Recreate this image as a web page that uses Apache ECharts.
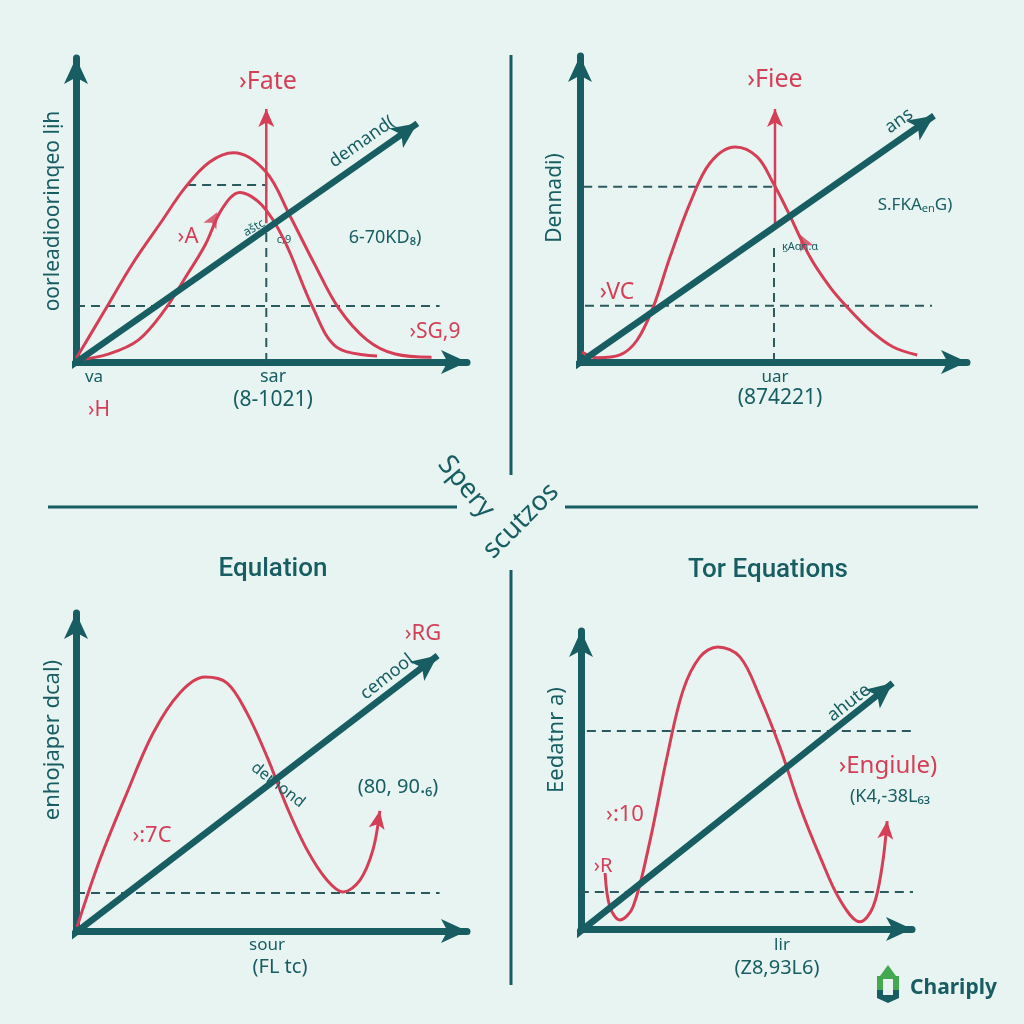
<!DOCTYPE html>
<html><head><meta charset="utf-8">
<script src="https://cdn.jsdelivr.net/npm/echarts@6/dist/echarts.min.js"></script>
<style>html,body{margin:0;padding:0;background:#e8f4f1}#c{width:1024px;height:1024px}</style>
</head><body><div id="c"></div>
<script>
// ---------- data (units: 0..100 along each panel's axes) ----------
// Panel 1 (top-left)
const p1Outer = [[0,1],[7,16],[14,31],[21,44],[27,55],[33,63],[39,66],[47,60],[53,46],[59,31],[65,17],[72,7],[79,2.5],[88,1.5]];
const p1Inner = [[0,0.6],[8,2.5],[15.5,7],[22,16.5],[27,26.5],[32,37],[36,48],[40.5,53.5],[46,49.5],[51.5,38.5],[58.5,17.5],[64.5,4.7],[74.5,1.9]];
const p1Demand = [[-5.5,-5],[84.5,75.3]];
const p1Price = [[47.1,43.8],[47.1,79.8]];
const p1GuideHigh = [[27.5,55.8],[47.1,55.8]];
const p1GuideLow = [[0,17.7],[90,17.7]];
const p1GuideV = [[47.1,0],[47.1,41.6]];
const p1Pointer = [35,47.3];
// Panel 2 (top-right)
const p2Curve = [[0.5,3.1],[4.3,1.3],[10,2.2],[14.3,6.9],[18.3,17.2],[22.5,32.9],[27.5,49.8],[32.5,62.4],[38.8,67.4],[44.3,64.3],[48.3,56.1],[51.8,47.6],[57.5,32.9],[62.5,23.5],[66.8,17.2],[72.5,10],[78.3,4.7],[84.3,2.2]];
const p2Demand = [[-3.75,-3.4],[88.5,77.2]];
const p2Price = [[48.75,42.3],[48.75,79.3]];
const p2GuideHigh = [[0.8,54.9],[48.3,54.9]];
const p2GuideLow = [[-2.5,17.6],[88,17.6]];
const p2GuideV = [[48.5,0],[48.5,37.3]];
const p2Pointer = [55,40];
// Panel 3 (bottom-left)
const p3Curve = [[0.25,1.2],[5.9,21.5],[12.6,41.7],[19.1,59.8],[25.7,71.9],[31.9,76.7],[37.4,74.9],[42.3,65.9],[47.3,52.6],[52.2,37.5],[57.2,24.5],[62.1,15.4],[66.1,11.8],[70.3,15.4],[73.5,24.5],[75.2,36.3]];
const p3Demand = [[-4.7,-4.8],[89.5,83.2]];
const p3Guide = [[0,11.5],[90,11.5]];
// Panel 4 (bottom-right)
const p4Curve = [[7,18],[8.4,7.1],[11.3,2.9],[15.1,7.1],[20.1,28.6],[25,55.3],[29.7,76.8],[34.6,87.5],[39.8,90.7],[46.2,87.5],[52,74.6],[57.8,58.5],[63.7,39.2],[69.5,23.2],[75.3,9.3],[81.1,2.3],[84.9,7.1],[87.5,19.9],[89,34.7]];
const p4Demand = [[-4.1,-4.2],[90.6,79.1]];
const p4GuideHigh = [[1.7,63.7],[103,63.7]];
const p4GuideLow = [[-4.7,11.9],[101.5,11.9]];

// ---------- styling / layout ----------
const teal = '#175d62', red = '#d43f57', dashC = '#2b5a5e', bg = '#e8f4f1';
const FONT = '"Noto Sans", "DejaVu Sans", sans-serif';
const TFONT = 'Roboto, "Noto Sans", sans-serif';
const panels = [
  {ox:76, oy:362, tipX:480, tipY:45},
  {ox:580, oy:362, tipX:980, tipY:43},
  {ox:76, oy:931, tipX:480, tipY:600},
  {ox:581, oy:929, tipX:925, tipY:618}
];
const AH = 26; // axis arrow height
const grids = [], xAxes = [], yAxes = [];
panels.forEach((p, i) => {
  const W = p.tipX - p.ox, H = p.oy - p.tipY;
  const back = AH / 2;
  grids.push({left: p.ox, top: p.tipY + back, width: W - back, height: H - back});
  const axisLine = {show:true, onZero:false, symbol:['none','arrow'], symbolSize:[18, AH], lineStyle:{color:teal, width:7}};
  xAxes.push({gridIndex:i, type:'value', min:0, max:100*(W-back)/W, axisLine, axisTick:{show:false}, axisLabel:{show:false}, splitLine:{show:false}});
  yAxes.push({gridIndex:i, type:'value', min:0, max:100*(H-back)/H, axisLine, axisTick:{show:false}, axisLabel:{show:false}, splitLine:{show:false}});
});

function withArrow(data, size, rot, color) {
  return data.map((d, k) => k === data.length - 1
    ? {value:d, symbol:'arrow', symbolSize:size, symbolRotate:rot, itemStyle:{color}}
    : {value:d});
}
function curve(gi, data, arrowRot) {
  return {type:'line', xAxisIndex:gi, yAxisIndex:gi, smooth:0.35, symbol:'none', clip:false, silent:true,
    data: arrowRot === undefined ? data : withArrow(data, [12,18], arrowRot, red),
    lineStyle:{color:red, width:3}, itemStyle:{color:red}, z:3};
}
function demand(gi, data, rot) {
  return {type:'line', xAxisIndex:gi, yAxisIndex:gi, symbol:'none', clip:false, silent:true,
    data: withArrow(data, [18,26], rot, teal), lineStyle:{color:teal, width:6.5}, itemStyle:{color:teal}, z:5};
}
function price(gi, data) {
  return {type:'line', xAxisIndex:gi, yAxisIndex:gi, symbol:'none', clip:false, silent:true,
    data: withArrow(data, [12,18], 0, red), lineStyle:{color:red, width:2.5}, itemStyle:{color:red}, z:3};
}
function guide(gi, data) {
  return {type:'line', xAxisIndex:gi, yAxisIndex:gi, symbol:'none', clip:false, silent:true,
    data, lineStyle:{color:dashC, width:2, type:[9,6]}, z:2};
}
function pointer(gi, pt, rot) {
  return {type:'scatter', xAxisIndex:gi, yAxisIndex:gi, silent:true, clip:false,
    data:[pt], symbol:'arrow', symbolSize:[11,16], symbolRotate:rot, itemStyle:{color:red}, z:4};
}

const series = [
  guide(0, p1GuideHigh), guide(0, p1GuideLow), guide(0, p1GuideV),
  curve(0, p1Outer), curve(0, p1Inner), price(0, p1Price), pointer(0, p1Pointer, -28),
  demand(0, p1Demand, -54.9),
  guide(1, p2GuideHigh), guide(1, p2GuideLow), guide(1, p2GuideV),
  curve(1, p2Curve), price(1, p2Price), pointer(1, p2Pointer, 26),
  demand(1, p2Demand, -55.1),
  guide(2, p3Guide), curve(2, p3Curve, -10), demand(2, p3Demand, -52.6),
  guide(3, p4GuideHigh), guide(3, p4GuideLow), curve(3, p4Curve, -6), demand(3, p4Demand, -51.5)
];

// ---------- annotations ----------
function T(text, x, y, size, color, rotDeg, weight, align, fam) {
  return {type:'text', x, y, rotation:(rotDeg||0)*Math.PI/180, z:10, silent:true,
    style:{text, fill:color, font:(weight||'normal') + ' ' + size + 'px ' + (fam||FONT),
      align: align||'center', textAlign: align||'center', verticalAlign:'middle', textVerticalAlign:'middle'}};
}
function L(x1,y1,x2,y2){return {type:'line', z:1, silent:true, shape:{x1,y1,x2,y2}, style:{stroke:teal, lineWidth:3}};}
const graphic = [
  L(511,55,511,475), L(511,570,511,985), L(48,507,457,507), L(565,507,978,507),
  // panel 1
  T('›Fate',268,82,25,red), T('demand(',362,142,18,teal,35), T('›A',188,237,22,red),
  T('aštc',254,228,12,teal,30), T('c,9',284,240,11,teal), T('6-70KD₈)',385,238,18,teal),
  T('›SG,9',435,332,21,red), T('va',94,377,17,teal), T('sar',273,377,18,teal),
  T('(8-1021)',273,400,21,teal), T('›H',99,410,21,red), T('oorleadioorinqeo lịh',53,211,21,teal,90),
  // panel 2
  T('›Fiee',775,80,25,red), T('ans',899,121,18,teal,35), T('S.FKAₑₙG)',915,205,17,teal),
  T('ϗAɑn.ɑ',800,247,11,teal), T('›VC',617,292,23,red), T('uar',775,377,17,teal),
  T('(874221)',780,398,21,teal), T('Dennadi)',555,198,21,teal,90),
  // center
  T('Spery',466,487,27,teal,-50), T('scutzos',521,521,27,teal,45),
  // panel 3
  T('Equlation',273,569,26,teal,0,500,'center',TFONT), T('›RG',423,634,22,red), T('cemool',387,677,18,teal,38),
  T('demond',278,785,16,teal,-38), T('(80, 90.₆)',398,787,20,teal), T('›:7C',152,836,22,red),
  T('sour',267,945,17,teal), T('(FL tc)',280,967,20,teal), T('enhojaper dcal)',53,740,22,teal,90),
  // panel 4
  T('Tor Equations',768,570,26,teal,0,500,'center',TFONT), T('ahute',849,703,18,teal,38), T('›Engiule)',888,766,24,red),
  T('(K4,-38L₆₃',890,797,18,teal), T('›:10',625,815,22,red), T('›R',603,866,20,red),
  T('lir',782,945,17,teal), T('(Z8,93L6)',777,968,20,teal), T('Eedatnr a)',557,740,22,teal,90),
  // logo
  {type:'polygon', z:10, silent:true, shape:{points:[[888,965],[896,976],[899,976],[899,990],[877,990],[877,976],[880,976]]}, style:{fill:'#43a84f'}},
  {type:'polygon', z:10, silent:true, shape:{points:[[877,990],[899,990],[899,998],[888,1003],[877,998]]}, style:{fill:teal}},
  {type:'rect', z:11, silent:true, shape:{x:883,y:979,width:10,height:16}, style:{fill:bg}},
  T('Chariply',910,988,21,teal,0,'bold','left')
];

const chart = echarts.init(document.getElementById('c'), null, {renderer:'canvas'});
chart.setOption({
  backgroundColor: bg, animation:false,
  grid: grids, xAxis: xAxes, yAxis: yAxes, series, graphic
});
</script></body></html>
